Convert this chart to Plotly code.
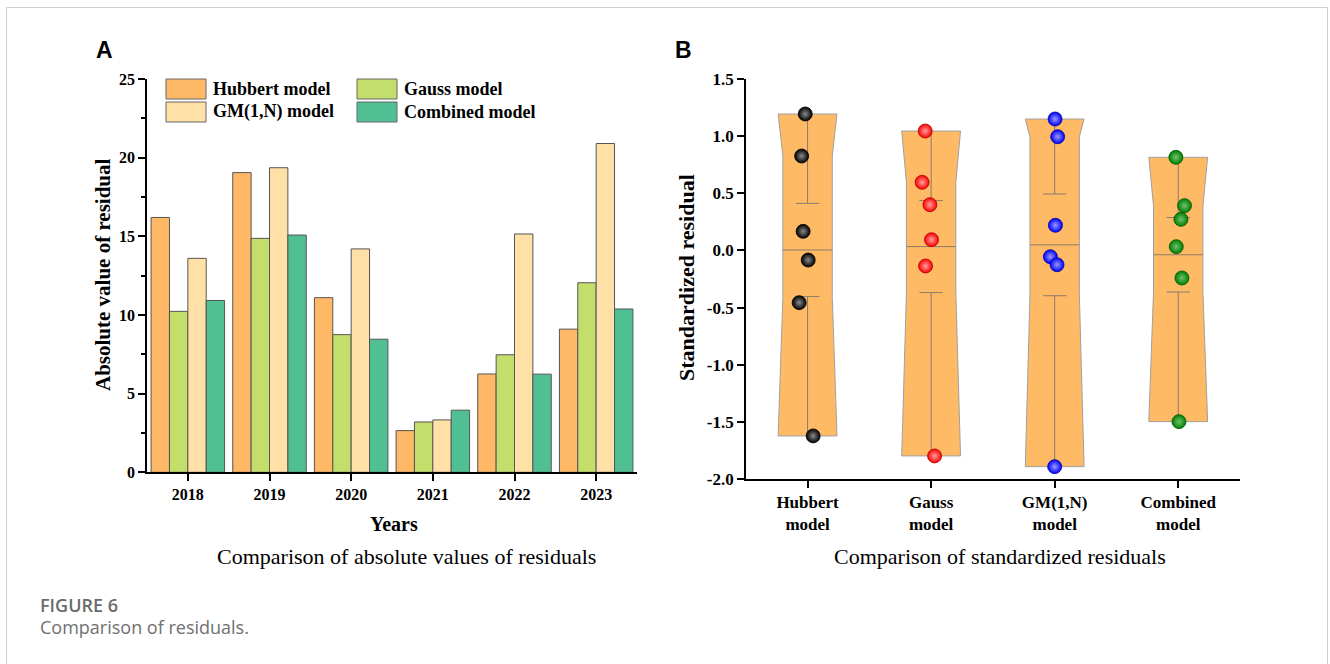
import numpy as np
import plotly.graph_objects as go

# Body margin is removed by a post script, so the figure fills the 1330x664 window.
MARGIN = 0
W, H = 1330, 664
def px(x): return (x - MARGIN) / W
def py(y): return 1 - (y - MARGIN) / H

# ---------------- Panel A data ----------------
years = ["2018", "2019", "2020", "2021", "2022", "2023"]
hubbert_abs = [16.2, 19.05, 11.1, 2.65, 6.25, 9.1]
gauss_abs = [10.23, 14.87, 8.75, 3.2, 7.47, 12.05]
gm_abs = [13.6, 19.36, 14.2, 3.33, 15.15, 20.9]
combined_abs = [10.92, 15.08, 8.46, 3.95, 6.24, 10.38]
series_names = ["Hubbert model", "Gauss model", "GM(1,N) model", "Combined model"]
bar_colors = ["#FFB966", "#C3DE6A", "#FFE1A8", "#50BF93"]

# ---------------- Panel B data ----------------
models = ["Hubbert<br>model", "Gauss<br>model", "GM(1,N)<br>model", "Combined<br>model"]
hubbert_std = [1.194, 0.826, 0.167, -0.084, -0.457, -1.623]
gauss_std = [1.045, 0.596, 0.400, 0.094, -0.136, -1.798]
gm_std = [1.150, 0.995, 0.220, -0.055, -0.125, -1.892]
combined_std = [0.815, 0.392, 0.272, 0.033, -0.241, -1.498]
# horizontal jitter of the points (category units)
hubbert_jit = [-0.019, -0.048, -0.036, 0.005, -0.068, 0.045]
gauss_jit = [-0.048, -0.073, -0.010, 0.003, -0.045, 0.028]
gm_jit = [0.003, 0.024, 0.006, -0.035, 0.019, 0.0]
combined_jit = [-0.019, 0.051, 0.022, -0.016, 0.030, 0.006]
point_colors = ["#000000", "#FF0000", "#0000FF", "#008000"]
point_centers = ["#8a8a8a", "#FFA0A0", "#9A9AFF", "#70C070"]
point_lines = ["#000000", "#B00000", "#0000A0", "#005500"]

fig = go.Figure()

# ---------------- Panel A bars ----------------
for name, vals, col in zip(series_names, [hubbert_abs, gauss_abs, gm_abs, combined_abs], bar_colors):
    fig.add_trace(go.Bar(x=years, y=vals, name=name, marker=dict(color=col, line=dict(color="#555555", width=1)),
                         xaxis="x", yaxis="y", showlegend=False))

# ---------------- Panel B boxes ----------------
std_sets = [hubbert_std, gauss_std, gm_std, combined_std]
jit_sets = [hubbert_jit, gauss_jit, gm_jit, combined_jit]
hw_wide, hw_narrow, cap_hw = 0.238, 0.2, 0.095
box_fill = "#FFBA66"
whisk_col = "#8B7B6B"
for i, vals in enumerate(std_sets):
    v = np.array(vals)
    vmax, vmin = v.max(), v.min()
    mean = v.mean()
    se = v.std(ddof=1) / np.sqrt(len(v))
    k1 = np.sort(v)[-2]
    k2 = mean - se
    xs = [i - hw_wide, i + hw_wide, i + hw_narrow, i + hw_narrow, i + hw_wide, i - hw_wide, i - hw_narrow, i - hw_narrow, i - hw_wide]
    ys = [vmax, vmax, k1, k2, vmin, vmin, k2, k1, vmax]
    fig.add_trace(go.Scatter(x=xs, y=ys, fill="toself", fillcolor=box_fill, mode="lines",
                             line=dict(color="#A0A0A0", width=1), xaxis="x2", yaxis="y2",
                             showlegend=False, hoverinfo="skip"))
    # whiskers, caps, mean line
    lx = [i, i, None, i - cap_hw, i + cap_hw, None, i - cap_hw, i + cap_hw, None, i, i, None, i - hw_narrow, i + hw_narrow]
    ly = [vmax, mean + se, None, mean + se, mean + se, None, mean - se, mean - se, None, mean - se, vmin, None, mean, mean]
    fig.add_trace(go.Scatter(x=lx, y=ly, mode="lines", line=dict(color=whisk_col, width=1),
                             xaxis="x2", yaxis="y2", showlegend=False, hoverinfo="skip"))

for i, (vals, jit) in enumerate(zip(std_sets, jit_sets)):
    fig.add_trace(go.Scatter(x=[i + j for j in jit], y=vals, mode="markers",
                             marker=dict(size=14, color=point_colors[i],
                                         gradient=dict(type="radial", color=point_centers[i]),
                                         line=dict(color=point_lines[i], width=0.8)),
                             xaxis="x2", yaxis="y2", showlegend=False))

serif = "Liberation Serif, Times New Roman, serif"
tickfont_a = dict(family=serif, size=16, color="black", weight="bold")
tickfont_b = dict(family=serif, size=17, color="black", weight="bold")

b_ticks = [-2.0, -1.5, -1.0, -0.5, 0.0, 0.5, 1.0, 1.5]
b_ticktext = ["-2.0", "-1.5", "-1.0", "-0.5", "0.0", "0.5", "1.0", "1.5"]

common = dict(showline=True, linecolor="black", linewidth=1.5, ticks="outside", ticklen=7,
              tickwidth=1.5, tickcolor="black", showgrid=False, zeroline=False, automargin=False)

fig.update_layout(
    template="none",
    width=W, height=H, margin=dict(l=0, r=0, t=0, b=0, pad=0, autoexpand=False),
    paper_bgcolor="white", plot_bgcolor="rgba(0,0,0,0)",
    barmode="group", bargap=0.1, bargroupgap=0.0,
    xaxis=dict(domain=[px(147), px(637)], anchor="y", type="category", range=[-0.5, 5.5],
               tickfont=tickfont_a, **common),
    yaxis=dict(domain=[py(472.3), py(79)], anchor="x", range=[0, 25], tickvals=[0, 5, 10, 15, 20, 25],
               tickfont=tickfont_a,
               minor=dict(tick0=0, dtick=2.5, ticks="outside", ticklen=4, tickwidth=1.5, tickcolor="black", showgrid=False),
               **common),
    xaxis2=dict(domain=[px(745.8), px(1240)], anchor="y2", range=[-0.5, 3.5], tickvals=[0, 1, 2, 3],
                ticktext=models, tickfont=tickfont_b, **common),
    yaxis2=dict(domain=[py(479), py(79)], anchor="x2", range=[-2.0, 1.5], tickvals=b_ticks, ticktext=b_ticktext,
                tickfont=tickfont_b, **common),
)

ann = []
def text(x, y, s, size, family=serif, weight="normal", color="black", xanchor="center", angle=0):
    ann.append(dict(x=px(x), y=py(y), xref="paper", yref="paper", text=s, showarrow=False,
                    xanchor=xanchor, yanchor="middle", textangle=angle,
                    font=dict(family=family, size=size, color=color, weight=weight)))

sans = "Liberation Sans, Arial, sans-serif"
text(104, 50, "A", 23, family=sans, weight="bold")
text(684, 50, "B", 23, family=sans, weight="bold")
text(103, 275, "Absolute value of residual", 21, weight="bold", angle=-90)
text(686, 278, "Standardized residual", 22, weight="bold", angle=-90)
text(394, 524, "Years", 20, weight="bold")
text(406, 556, "Comparison of absolute values of residuals", 22)
text(1000, 556, "Comparison of standardized residuals", 22)
text(38, 605, "FIGURE 6", 18, family="Open Sans, sans-serif", weight=600, color="#6b6b6b", xanchor="left")
text(38, 627, "Comparison of residuals.", 18, family="Open Sans, sans-serif", color="#707070", xanchor="left")

# custom legend
shapes = []
leg_pos = [(166, 79), (357, 79), (166, 102), (357, 102)]
for k, (lx0, ly0) in enumerate(leg_pos):
    shapes.append(dict(type="rect", xref="paper", yref="paper", x0=px(lx0), x1=px(lx0 + 40),
                       y0=py(ly0 + 20), y1=py(ly0), fillcolor=bar_colors[k],
                       line=dict(color="#666666", width=1)))
    text(lx0 + 45, ly0 + 10, series_names[k], 18, weight="bold", xanchor="left")

# outer frame (top, left, right edges)
shapes.append(dict(type="rect", xref="paper", yref="paper", x0=px(6.5), x1=px(1327.5), y0=py(720), y1=py(7.5),
                   line=dict(color="#D0D0D0", width=1), fillcolor="rgba(0,0,0,0)", layer="below"))

fig.update_layout(annotations=ann, shapes=shapes)
fig.write_html("out.html", config={"displayModeBar": False},
               post_script="document.body.style.margin='0px';")
